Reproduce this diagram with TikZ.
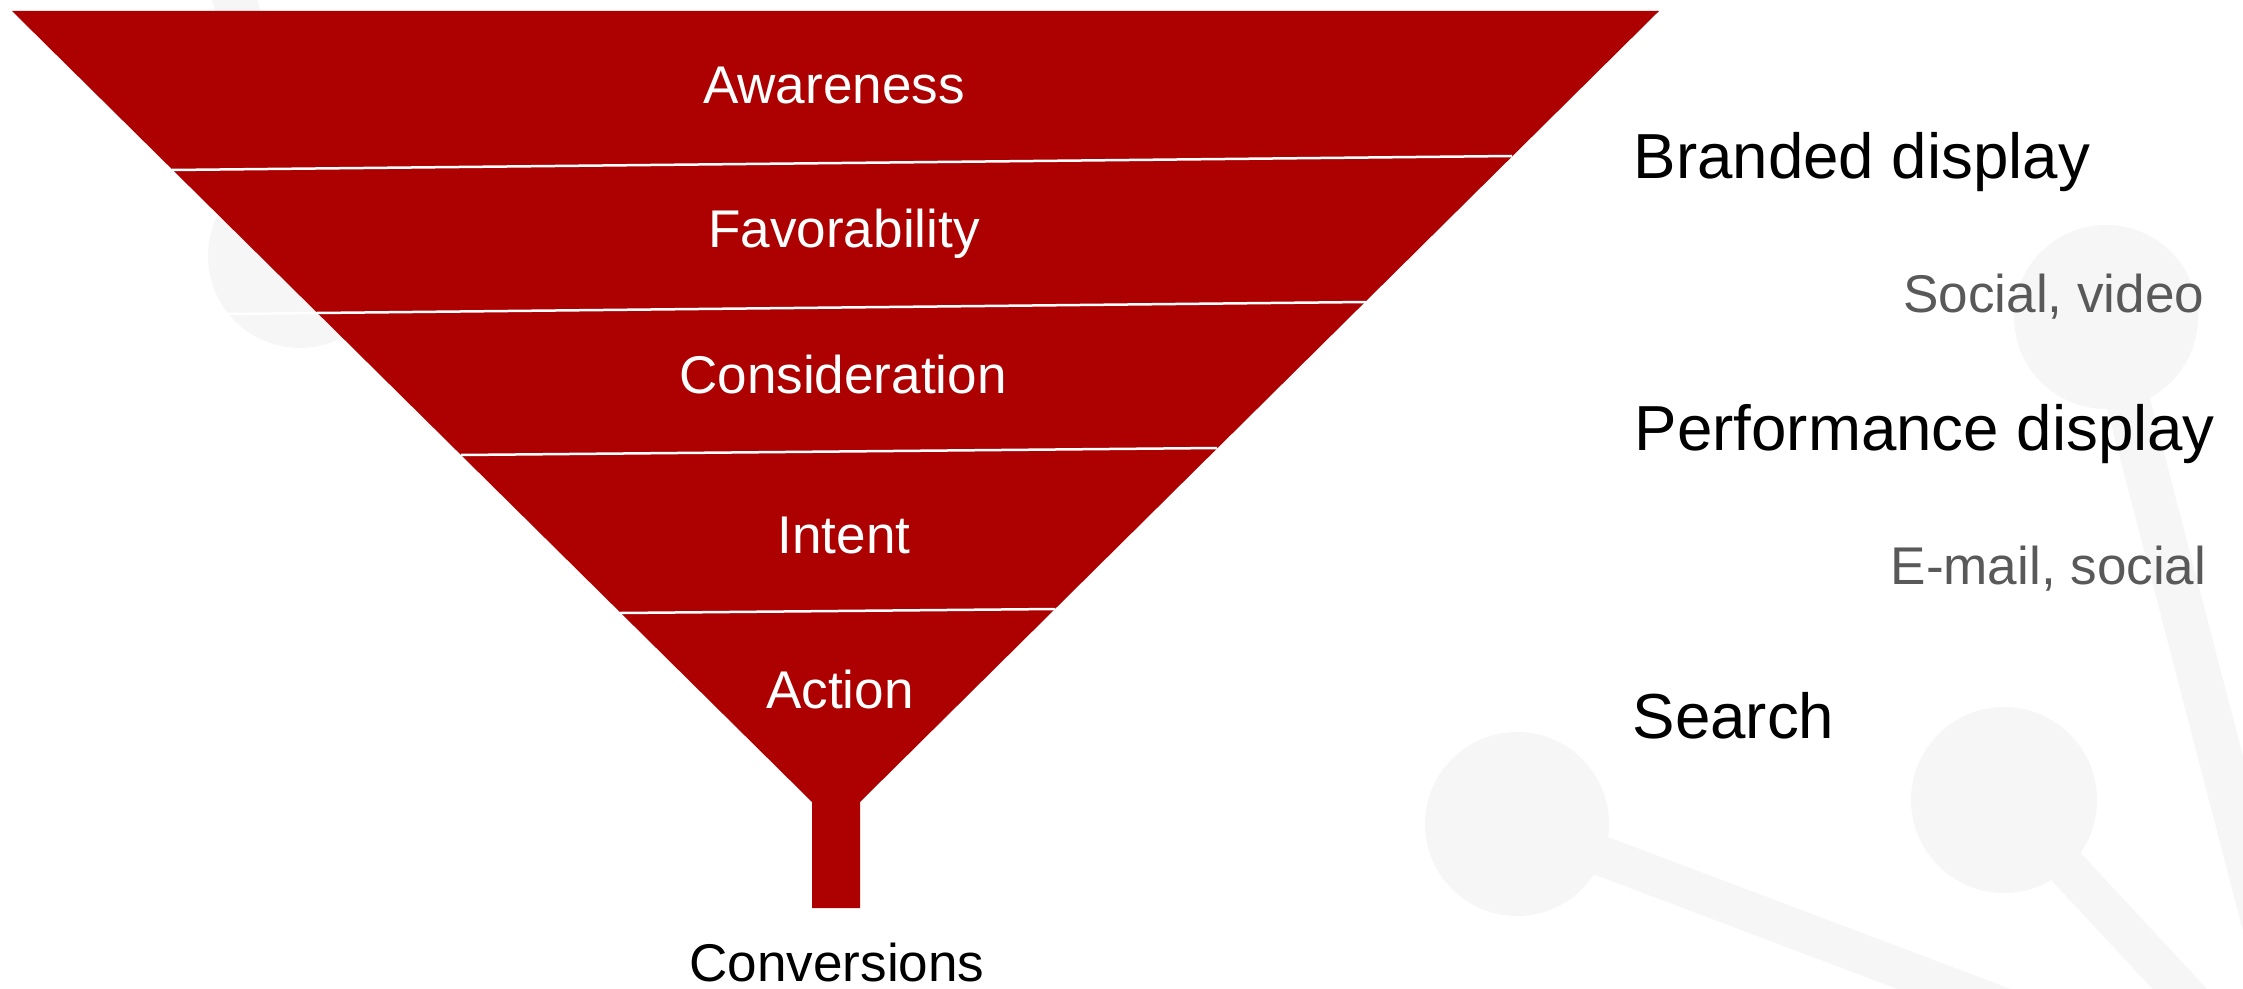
\documentclass[tikz,border=0pt]{standalone}
\usepackage{fontspec}
\setmainfont{Liberation Sans}
\definecolor{funnelred}{RGB}{173,0,0}
\definecolor{bubble}{RGB}{246,246,246}
\definecolor{subgray}{RGB}{89,89,89}
\begin{document}
\begin{tikzpicture}[x=0.01cm,y=-0.01cm,
  stage/.style={text=white,inner sep=0pt,anchor=base,font=\fontsize{15.1}{18}\selectfont},
  channel/.style={text=black,inner sep=0pt,anchor=base west,font=\fontsize{18.1}{22}\selectfont},
  subchannel/.style={text=subgray,inner sep=0pt,anchor=base east,font=\fontsize{15.1}{18}\selectfont},
  divider/.style={draw=white,line width=0.025cm},
  bubblestem/.style={draw=bubble,line width=0.44cm},
  bubbledot/.style={fill=bubble}]
\useasboundingbox (0,0) rectangle (2243,988);
\begin{scope}
\clip (0,0) rectangle (2243,988);
% faint molecule-like decoration in the background
\coordinate (ba) at (300,256);
\coordinate (bb) at (2106,317);
\coordinate (bc) at (1517,824);
\coordinate (bd) at (2004,800);
\draw[bubblestem] (ba) -- (222,-50);
\draw[bubblestem] (bb) -- (2314,1117);
\draw[bubblestem,line width=0.40cm] (bc) -- (2317,1126);
\draw[bubblestem,line width=0.40cm] (bd) -- (2283,1100);
\fill[bubbledot] (ba) circle (92);
\fill[bubbledot] (bb) circle (92);
\fill[bubbledot] (bc) circle (92);
\fill[bubbledot] (bd) circle (93);
\end{scope}
% funnel body and spout
\coordinate (tl) at (12,11);
\coordinate (tr) at (1659,11);
\coordinate (nr) at (860,802);
\coordinate (nl) at (812,802);
\fill[funnelred] (tl) -- (tr) -- (nr) -- (860,908) -- (812,908) -- (nl) -- cycle;
% stage dividers
\draw[divider] (172,170) -- (1512,156);
\draw[divider] (226,314) -- (317,313) -- (1366,302);
\draw[divider] (461,455) -- (1217,448);
\draw[divider] (620,613) -- (1055,609);
% stage labels
\node[stage] (aw) at (834,104) {Awareness};
\node[stage] (fa) at (844,248) {Favorability};
\node[stage] (co) at (843,393) {Consideration};
\node[stage] (in) at (844,553) {Intent};
\node[stage] (ac) at (840,708) {Action};
\node[stage,text=black] (cv) at (837,981) {Conversions};
% channel labels
\node[channel] (br) at (1633,179) {Branded display};
\node[subchannel] (sv) at (2205,312) {Social, video};
\node[channel] (pd) at (1634,450) {Performance display};
\node[subchannel] (es) at (2207,584) {E-mail, social};
\node[channel] (se) at (1632,738) {Search};
\end{tikzpicture}
\end{document}
